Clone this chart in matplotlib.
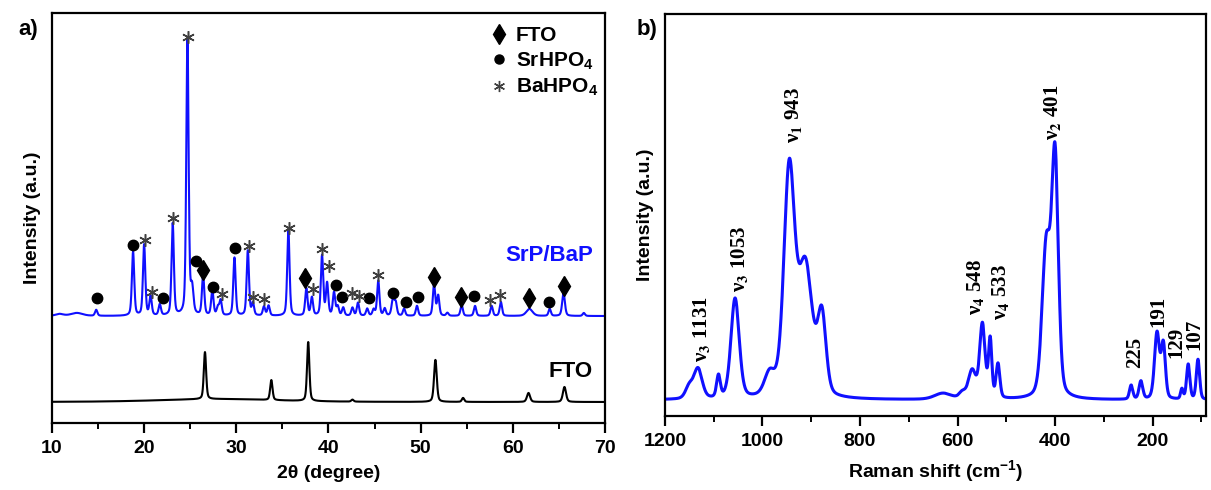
import numpy as np
import matplotlib
matplotlib.use('Agg')
import matplotlib.pyplot as plt
from matplotlib.lines import Line2D
from matplotlib.ticker import MultipleLocator

plt.rcParams['font.family'] = ['Liberation Sans', 'DejaVu Sans']
plt.rcParams['font.weight'] = 'bold'
plt.rcParams['axes.labelweight'] = 'bold'
plt.rcParams['mathtext.fontset'] = 'custom'
plt.rcParams['mathtext.rm'] = 'Liberation Sans:bold'
plt.rcParams['mathtext.it'] = 'Liberation Sans:italic:bold'
plt.rcParams['mathtext.bf'] = 'Liberation Sans:bold'

# ---- XRD data (2theta in degree, intensity in a.u.) ----
srp_pos = [10.8, 12.7, 14.8, 18.8, 20.0, 20.7, 21.7, 23.1, 24.7, 25.2, 26.4, 27.4, 28.0,
           28.3, 29.8, 31.25, 31.8, 33.0, 33.5, 35.65, 37.6, 38.2, 39.3, 39.85, 40.6, 41.0,
           41.6, 42.6, 43.2, 44.2, 44.9, 45.4, 46.1, 47.0, 47.3, 48.2, 49.6, 51.45, 51.9,
           52.9, 54.45, 55.9, 57.7, 58.7, 61.8, 64.0, 65.5, 67.7]
srp_height = [2, 3, 6, 64, 71, 19, 11, 92, 276, 25, 40, 25, 8,
              15, 58, 65, 12, 9, 10, 85, 27, 18, 60, 32, 23, 9,
              8, 8, 13, 7, 6, 35, 7, 17, 12, 7, 10, 31, 20,
              3, 11, 10, 10, 14, 7, 7, 23, 3]
srp_width = [1.0, 1.5, 0.3, 0.3, 0.3, 0.3, 0.3, 0.3, 0.3, 0.35, 0.3, 0.3, 0.3,
             0.3, 0.3, 0.3, 0.3, 0.3, 0.3, 0.3, 0.3, 0.3, 0.3, 0.3, 0.3, 0.3,
             0.3, 0.3, 0.3, 0.3, 0.3, 0.3, 0.3, 0.35, 0.3, 0.3, 0.3, 0.3, 0.3,
             0.3, 0.3, 0.3, 0.3, 0.3, 0.8, 0.3, 0.35, 0.3]

fto_pos = [26.6, 33.8, 37.8, 42.6, 51.6, 54.6, 61.7, 65.6, 28.0]
fto_height = [47, 20, 59, 2, 42, 4, 9, 15, 3]
fto_width = [0.3, 0.3, 0.3, 0.3, 0.35, 0.3, 0.4, 0.4, 15]

fto_base = 21
srp_base = 107

# phase markers
fto_mark_x = [26.4, 37.5, 51.4, 54.4, 61.7, 65.5]
fto_mark_y = [153, 145, 146, 126, 125, 137]
sr_mark_x = [14.9, 18.8, 22.0, 25.6, 27.5, 29.9, 40.8, 41.5, 44.4, 47.0, 48.4, 49.7, 55.8, 63.9]
sr_mark_y = [125, 178, 125, 162, 136, 175, 138, 126, 125, 130, 121, 126, 127, 121]
ba_mark_x = [20.1, 20.8, 23.1, 24.8, 28.5, 31.4, 31.8, 33.0, 35.75, 38.3, 39.25, 40.1,
             42.5, 43.35, 45.4, 57.5, 58.65]
ba_mark_y = [183, 131, 205, 386, 129, 177, 126, 124, 195, 134, 174, 157,
             130, 127, 148, 123, 128]

# ---- Raman data (cm-1, a.u.) ----
raman_pos = [1150, 1132, 1090, 1056, 985, 945, 912, 878, 630, 590, 570, 549, 533, 517,
             418, 400, 244, 224, 191, 178, 140, 127, 107]
raman_height = [12, 30, 22, 100, 22, 225, 130, 78, 6, 6, 28, 74, 58, 34,
                150, 235, 14, 18, 66, 54, 10, 35, 40]
raman_width = [18, 20, 9, 20, 25, 26, 34, 20, 40, 15, 18, 13, 8, 9,
               20, 16, 8, 9, 12, 10, 6, 8, 8]
raman_base = 16

raman_labels = ['ν$_3$ 1131', 'ν$_3$ 1053', 'ν$_1$ 943', 'ν$_2$ 401',
                'ν$_4$ 548', 'ν$_4$ 533', '225', '191', '129', '107']
raman_label_x = [1124, 1046, 937, 405, 563, 511, 236, 189, 152, 115]
raman_label_y = [54, 124, 273, 276, 101, 96, 48, 89, 58, 66]


def profile(x, pos, height, width, eta=0.4):
    y = np.zeros_like(x)
    for p, h, w in zip(pos, height, width):
        d = (x - p) / w
        y += h * (eta / (1 + 4 * d ** 2) + (1 - eta) * np.exp(-4 * np.log(2) * d ** 2))
    return y


fig = plt.figure(figsize=(12.11, 4.90), dpi=100)
ax1 = fig.add_axes([0.0429, 0.1367, 0.4567, 0.8367])
ax2 = fig.add_axes([0.549, 0.151, 0.4467, 0.8204])

# ---- panel a ----
tt = np.linspace(10, 70, 6001)
ax1.plot(tt, fto_base + profile(tt, fto_pos, fto_height, fto_width), color='black', lw=1.5)
ax1.plot(tt, srp_base + profile(tt, srp_pos, srp_height, srp_width), color='#1010ff', lw=1.5)

ax1.plot(fto_mark_x, fto_mark_y, ls='none', marker='d', ms=10, color='black')
ax1.plot(sr_mark_x, sr_mark_y, ls='none', marker='o', ms=7.5, color='black')
ax1.plot(ba_mark_x, ba_mark_y, ls='none', marker=(6, 2, 0), ms=9, mew=1.1, color='#404040')

ax1.text(68.7, 168, 'SrP/BaP', color='#1010ff', fontsize=16, ha='right', va='center')
ax1.text(68.7, 52, 'FTO', color='black', fontsize=16, ha='right', va='center')

handles = [Line2D([], [], ls='none', marker='d', ms=10, color='black'),
           Line2D([], [], ls='none', marker='o', ms=6.5, color='black'),
           Line2D([], [], ls='none', marker=(6, 2, 0), ms=8, mew=1.0, color='#404040')]
ax1.legend(handles, ['FTO', r'SrHPO$_4$', r'BaHPO$_4$'], loc='upper right',
           bbox_to_anchor=(1.006, 0.993), frameon=False, fontsize=15,
           handlelength=0.8, handletextpad=0.4, labelspacing=0.25, borderpad=0)

ax1.set_xlim(10, 70)
ax1.set_ylim(0, 410)
ax1.xaxis.set_major_locator(MultipleLocator(10))
ax1.xaxis.set_minor_locator(MultipleLocator(5))
ax1.set_yticks([])
ax1.set_xlabel('2θ (degree)', fontsize=14, labelpad=6)
ax1.set_ylabel('Intensity (a.u.)', fontsize=14, labelpad=8)

# ---- panel b ----
rs = np.linspace(91, 1200, 5000)
ax2.plot(rs, raman_base + profile(rs, raman_pos, raman_height, raman_width, eta=0.3),
         color='#1010ff', lw=2.2)
for lab, lx, ly in zip(raman_labels, raman_label_x, raman_label_y):
    ax2.text(lx, ly, lab, rotation=90, ha='center', va='bottom', fontsize=15,
             family='Liberation Serif', weight='bold', math_fontfamily='stix')

ax2.set_xlim(1200, 91)
ax2.set_ylim(0, 402)
ax2.xaxis.set_major_locator(MultipleLocator(200))
ax2.xaxis.set_minor_locator(MultipleLocator(100))
ax2.set_yticks([])
ax2.set_xlabel(r'Raman shift (cm$^{-1}$)', fontsize=14, labelpad=6)
ax2.set_ylabel('Intensity (a.u.)', fontsize=14, labelpad=8)

for ax in (ax1, ax2):
    for s in ax.spines.values():
        s.set_linewidth(1.6)
    ax.tick_params(axis='x', which='major', direction='out', length=7, width=1.6,
                   labelsize=14, pad=5)
    ax.tick_params(axis='x', which='minor', direction='out', length=4.5, width=1.4)

fig.text(0.023, 0.94, 'a)', fontsize=16, ha='center', va='center')
fig.text(0.534, 0.94, 'b)', fontsize=16, ha='center', va='center')

fig.savefig('out.png', dpi=100)
